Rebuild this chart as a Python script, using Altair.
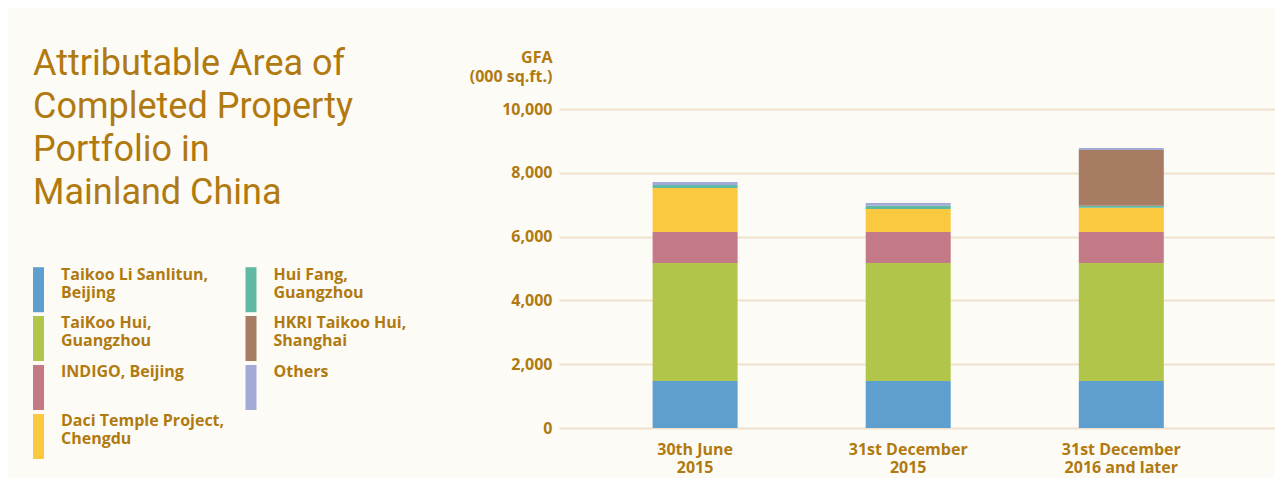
import altair as alt
import pandas as pd

# ---- data -------------------------------------------------------------
periods = ["30th June 2015", "31st December 2015", "31st December 2016 and later"]
period_labels = ["30th June|2015", "31st December|2015", "31st December|2016 and later"]

projects = [
    "Taikoo Li Sanlitun, Beijing",
    "TaiKoo Hui, Guangzhou",
    "INDIGO, Beijing",
    "Daci Temple Project, Chengdu",
    "Hui Fang, Guangzhou",
    "HKRI Taikoo Hui, Shanghai",
    "Others",
]
project_labels = [
    "Taikoo Li Sanlitun,|Beijing",
    "TaiKoo Hui,|Guangzhou",
    "INDIGO, Beijing",
    "Daci Temple Project,|Chengdu",
    "Hui Fang,|Guangzhou",
    "HKRI Taikoo Hui,|Shanghai",
    "Others",
]
project_colors = ["#5e9fd0", "#b0c549", "#c47a86", "#fbc93f", "#60b9a3", "#a77c63", "#a4aad6"]

taikoo_li_sanlitun = [1470, 1470, 1470]
taikoo_hui = [3700, 3700, 3700]
indigo = [975, 975, 975]
daci_temple = [1380, 720, 760]
hui_fang = [95, 100, 60]
hkri_taikoo_hui = [0, 0, 1750]
others = [95, 85, 65]

series = [taikoo_li_sanlitun, taikoo_hui, indigo, daci_temple, hui_fang, hkri_taikoo_hui, others]

title_lines = ["Attributable Area of", "Completed Property", "Portfolio in", "Mainland China"]
y_ticks = [0, 2000, 4000, 6000, 8000, 10000]

rows = []
for i, (proj, vals) in enumerate(zip(projects, series)):
    for per, v in zip(periods, vals):
        rows.append({"period": per, "project": proj, "value": v, "stack": i})
df = pd.DataFrame(rows)

GOLD = "#b07a10"
TITLE_FONT = "Roboto"
LABEL_FONT = "Open Sans"
BG = "#fdfbf6"


def split_expr(names, labels):
    parts = [f"datum.label == '{n}' ? split('{l}', '|')" for n, l in zip(names, labels)]
    return " : ".join(parts) + " : datum.label"


bars = alt.Chart(df).mark_bar(size=85).encode(
    x=alt.X(
        "period:N",
        sort=periods,
        scale=alt.Scale(paddingInner=0.6, paddingOuter=0.48, align=0.457),
        axis=alt.Axis(
            title=None, labelAngle=0, domain=False, ticks=False, grid=False,
            labelPadding=13, labelFontSize=16, labelFontWeight="bold",
            labelFont=LABEL_FONT, labelColor=GOLD, labelLineHeight=18,
            labelExpr=split_expr(periods, period_labels),
        ),
    ),
    y=alt.Y(
        "value:Q",
        stack="zero",
        scale=alt.Scale(domain=[0, 10000], nice=False),
        axis=alt.Axis(
            values=y_ticks, format=",.0f", domain=False, ticks=False,
            labelPadding=7, labelFontSize=16, labelFontWeight="bold",
            labelFont=LABEL_FONT, labelColor=GOLD,
            gridColor="#efe1cb", gridWidth=2,
            title=["GFA", "(000 sq.ft.)"], titleAngle=0, titleAlign="right",
            titleBaseline="alphabetic", titleX=-7, titleY=-47,
            titleFont=LABEL_FONT, titleFontSize=16, titleFontWeight="bold",
            titleColor=GOLD, titleLineHeight=19,
        ),
    ),
    color=alt.Color(
        "project:N",
        scale=alt.Scale(domain=projects, range=project_colors),
        legend=alt.Legend(
            title=None, orient="none", legendX=-528.5, legendY=165.4, columns=2,
            direction="vertical",
            symbolType="M-1.833,-5.133H1.833V9.867H-1.833Z", symbolSize=36,
            symbolStrokeWidth=0, symbolOpacity=1,
            labelFont=LABEL_FONT, labelFontSize=16, labelFontWeight="bold",
            labelColor=GOLD, labelBaseline="bottom", labelOffset=14.5,
            labelLimit=300, rowPadding=3, columnPadding=18.5,
            labelExpr=split_expr(projects, project_labels),
        ),
    ),
    order=alt.Order("stack:Q", sort="ascending"),
)

title_text = alt.Chart(pd.DataFrame({"t": [0]})).mark_text(
    text=title_lines, align="left", baseline="alphabetic",
    fontSize=36, lineHeight=43, color=GOLD, font=TITLE_FONT,
).encode(x=alt.value(-526), y=alt.value(-34))

chart = alt.layer(bars, title_text).properties(
    width=716, height=319,
    autosize=alt.AutoSizeParams(type="none"),
    padding={"left": 551, "top": 101, "right": 0, "bottom": 50},
    background=BG,
).configure_view(stroke=None)

chart.save("out.html", embed_options={"renderer": "svg", "actions": False})
